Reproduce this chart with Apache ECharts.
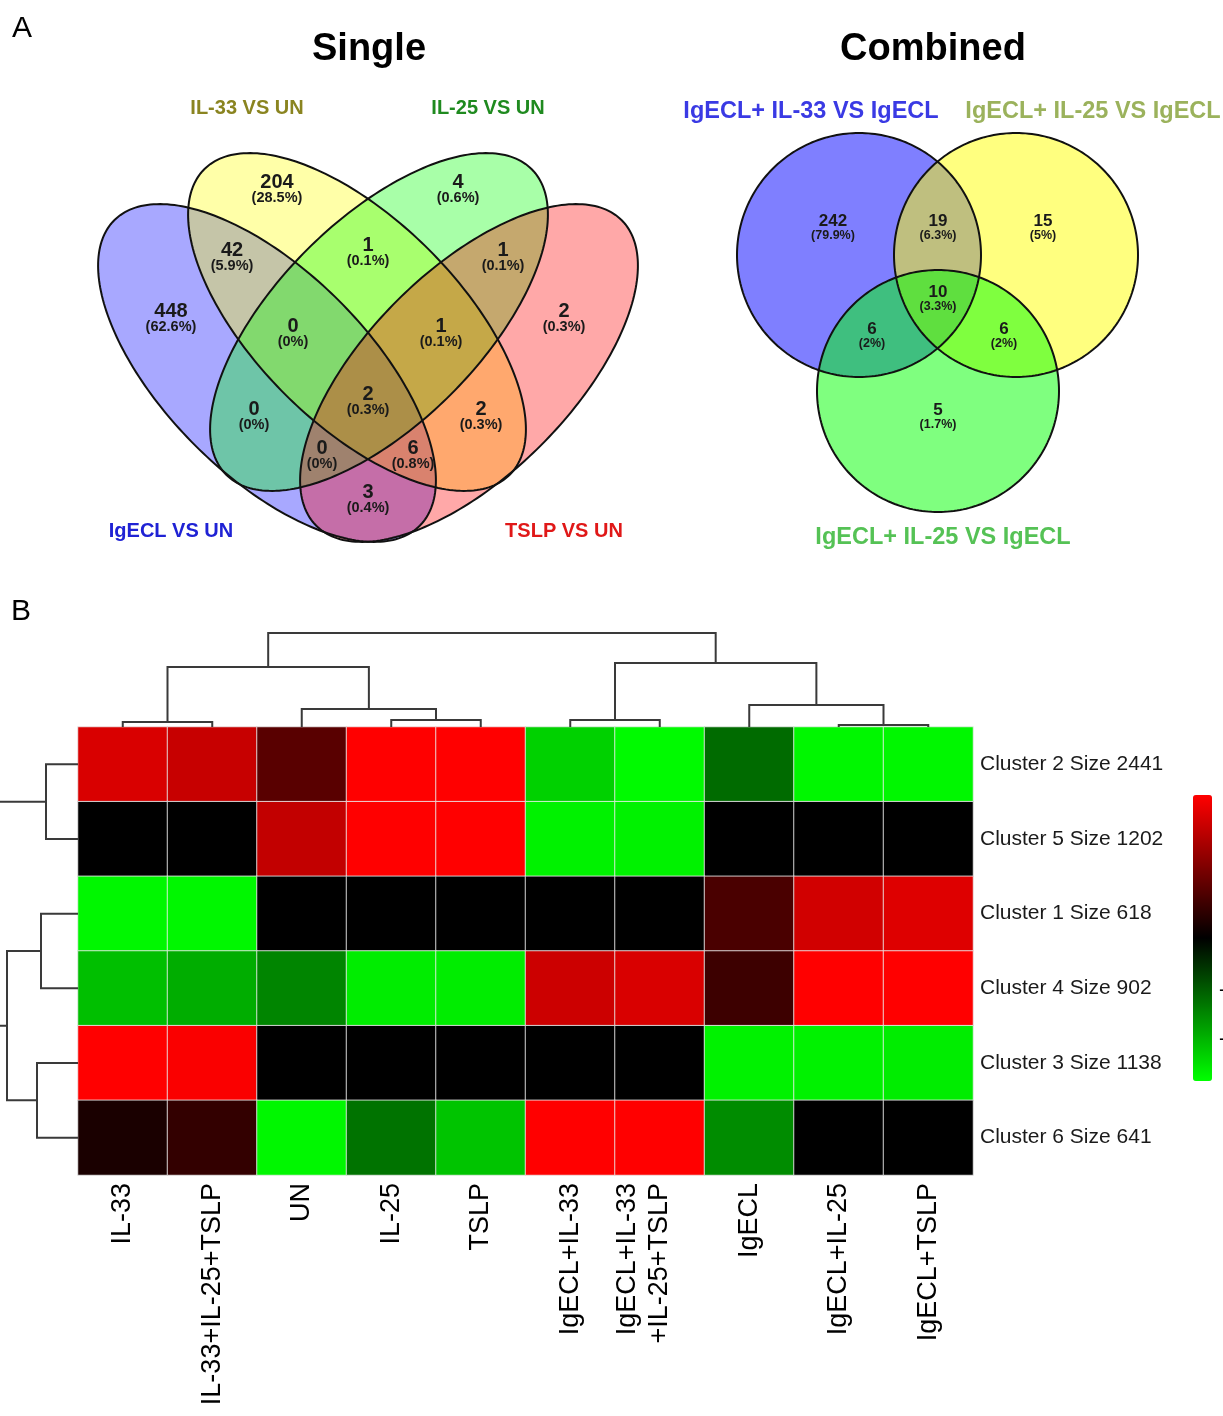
<!DOCTYPE html>
<html><head><meta charset="utf-8">
<script src="https://cdn.jsdelivr.net/npm/echarts@6/dist/echarts.min.js"></script>
<style>html,body{margin:0;padding:0;background:#fff}#c{width:1223px;height:1416px}</style>
</head><body><div id="c"></div>
<script>
const FONT = '"Liberation Sans", Arial, Helvetica, sans-serif';

// ---------- Panel A data ----------
const singleSets = ['IgECL VS UN', 'IL-33 VS UN', 'IL-25 VS UN', 'TSLP VS UN'];
const singleRegions = ['A', 'B', 'C', 'D', 'AB', 'BC', 'CD', 'ABC', 'BCD', 'ABCD', 'AC', 'BD', 'ACD', 'ABD', 'AD'];
const singleCounts = [448, 204, 4, 2, 42, 1, 1, 0, 1, 2, 0, 2, 0, 6, 3];
const singlePercents = ['62.6%', '28.5%', '0.6%', '0.3%', '5.9%', '0.1%', '0.1%', '0%', '0.1%', '0.3%', '0%', '0.3%', '0%', '0.8%', '0.4%'];

const combinedSets = ['IgECL+ IL-33 VS IgECL', 'IgECL+ IL-25 VS IgECL', 'IgECL+ IL-25 VS IgECL'];
const combinedRegions = ['A', 'AB', 'B', 'ABC', 'AC', 'BC', 'C'];
const combinedCounts = [242, 19, 15, 10, 6, 6, 5];
const combinedPercents = ['79.9%', '6.3%', '5%', '3.3%', '2%', '2%', '1.7%'];

// ---------- Panel B data ----------
const columns = ['IL-33', 'IL-33+IL-25+TSLP', 'UN', 'IL-25', 'TSLP', 'IgECL+IL-33', 'IgECL+IL-33\n+IL-25+TSLP', 'IgECL', 'IgECL+IL-25', 'IgECL+TSLP'];
const clusters = ['Cluster 2 Size 2441', 'Cluster 5 Size 1202', 'Cluster 1 Size 618', 'Cluster 4 Size 902', 'Cluster 3 Size 1138', 'Cluster 6 Size 641'];
const cluster2 = [0.85, 0.78, 0.35, 1.0, 1.0, -0.82, -0.98, -0.42, -0.97, -0.97];
const cluster5 = [0.0, 0.0, 0.76, 1.0, 1.0, -0.95, -0.95, 0.0, 0.0, 0.0];
const cluster1 = [-0.97, -0.97, 0.0, 0.0, 0.0, 0.0, 0.0, 0.29, 0.82, 0.87];
const cluster4 = [-0.75, -0.68, -0.52, -0.93, -0.93, 0.8, 0.85, 0.24, 1.0, 1.0];
const cluster3 = [1.0, 0.98, 0.0, 0.0, 0.0, 0.0, 0.0, -0.95, -0.95, -0.93];
const cluster6 = [0.1, 0.2, -0.97, -0.45, -0.77, 1.0, 1.0, -0.55, 0.0, 0.0];
const heatRows = [cluster2, cluster5, cluster1, cluster4, cluster3, cluster6];

// dendrogram merges: [childA, childB, height]; leaves first, then new nodes numbered after them
const colLinkage = [[0, 1, 5], [3, 4, 7], [2, 11, 18], [10, 12, 60], [5, 6, 7], [8, 9, 2], [7, 15, 22], [14, 16, 64], [13, 17, 94]];
const rowLinkage = [[0, 1, 32], [2, 3, 37], [4, 5, 41], [7, 8, 71], [6, 9, 82]];

// ---------- layout (diagram geometry, in canvas-like units of the Venn grid) ----------
const singleEllipses = [[267, 373, 216, 102, 45], [357, 322, 216, 102, 45], [379, 322, 216, 102, -45], [469, 373, 216, 102, -45]];
const singleFills = ['rgba(0,0,255,0.34)', 'rgba(255,255,0,0.34)', 'rgba(0,255,0,0.34)', 'rgba(255,0,0,0.34)'];
const singleLabelPos = [[171, 311], [277, 182], [458, 182], [564, 311], [232, 250], [368, 245], [503, 250], [293, 326], [441, 326], [368, 394], [254, 409], [481, 409], [322, 448], [413, 448], [368, 492]];
const singleSetLabelPos = [[171, 531], [247, 108], [488, 108], [564, 531]];
const singleSetColors = ['#1f22d4', '#8a8420', '#1f8a1f', '#e01818'];

const combinedCircles = [[859, 255, 122, 122, 0], [1016, 255, 122, 122, 0], [938, 391, 121, 121, 0]];
const combinedFills = ['rgba(0,0,255,0.5)', 'rgba(255,255,0,0.5)', 'rgba(0,255,0,0.5)'];
const combinedLabelPos = [[833, 221], [938, 221], [1043, 221], [938, 292], [872, 329], [1004, 329], [938, 410]];
const combinedSetLabelPos = [[811, 112], [1093, 112], [943, 538]];
const combinedSetColors = ['#3a3ae4', '#9bb25c', '#55c255'];

function dendroSegments(linkage, nLeaves) {
  const pos = [], ht = [];
  for (let i = 0; i < nLeaves; i++) { pos[i] = i + 0.5; ht[i] = 0; }
  return linkage.map((m, k) => {
    const id = nLeaves + k;
    pos[id] = (pos[m[0]] + pos[m[1]]) / 2; ht[id] = m[2];
    return [pos[m[0]], ht[m[0]], pos[m[1]], ht[m[1]], m[2]];
  });
}

const heatData = [];
heatRows.forEach((row, r) => row.forEach((v, c) => heatData.push([c, r, v])));

function ellipseRender(fills) {
  return function (params, api) {
    const cx = api.value(0), cy = api.value(1), a = api.value(2), b = api.value(3);
    const ang = api.value(4) * Math.PI / 180, i = api.value(5), mode = api.value(6);
    const pts = [];
    for (let k = 0; k < 240; k++) {
      const t = k / 240 * 2 * Math.PI;
      const x = cx + a * Math.cos(t) * Math.cos(ang) - b * Math.sin(t) * Math.sin(ang);
      const y = cy + a * Math.cos(t) * Math.sin(ang) + b * Math.sin(t) * Math.cos(ang);
      pts.push(api.coord([x, y]));
    }
    return {
      type: 'polygon', shape: { points: pts },
      style: mode === 0 ? { fill: fills[i], stroke: null } : { fill: null, stroke: '#111', lineWidth: 2 }
    };
  };
}
function ellipseData(list) {
  const d = [];
  list.forEach((e, i) => d.push([...e, i, 0]));
  list.forEach((e, i) => d.push([...e, i, 1]));
  return d;
}
function labelRender(counts, pcts, big, small, gap) {
  return function (params, api) {
    const i = api.value(2);
    const p1 = api.coord([api.value(0), api.value(1)]);
    return {
      type: 'group', children: [
        { type: 'text', x: p1[0], y: p1[1], style: { text: String(counts[i]), fontFamily: FONT, fontWeight: 'bold', fontSize: big, fill: '#1a1a1a', align: 'center', verticalAlign: 'middle' } },
        { type: 'text', x: p1[0], y: p1[1] + gap, style: { text: '(' + pcts[i] + ')', fontFamily: FONT, fontWeight: 'bold', fontSize: small, fill: '#1a1a1a', align: 'center', verticalAlign: 'middle' } }
      ]
    };
  };
}
function setLabelRender(names, colors, size) {
  return function (params, api) {
    const i = api.value(2);
    const p = api.coord([api.value(0), api.value(1)]);
    return { type: 'text', x: p[0], y: p[1], style: { text: names[i], fontFamily: FONT, fontWeight: 'bold', fontSize: size, fill: colors[i], align: 'center', verticalAlign: 'middle' } };
  };
}

const hidden = { show: false };
const chart = echarts.init(document.getElementById('c'), null, { renderer: 'canvas' });
chart.setOption({
  animation: false,
  backgroundColor: '#fff',
  grid: [
    { left: 78, top: 727, width: 895, height: 448, outerBoundsMode: 'none' },
    { left: 78, top: 627, width: 895, height: 100, outerBoundsMode: 'none' },
    { left: 0, top: 727, width: 78, height: 448, outerBoundsMode: 'none' },
    { left: 0, top: 0, width: 1223, height: 560, outerBoundsMode: 'none' }
  ],
  xAxis: [
    { gridIndex: 0, type: 'category', data: columns, position: 'bottom',
      axisLine: hidden, axisTick: hidden, splitLine: hidden,
      axisLabel: { interval: 0, rotate: 90, margin: 8, fontSize: 27, lineHeight: 32, color: '#000', fontFamily: FONT,
        formatter: v => (v.indexOf('\n') >= 0 ? v + '\n ' : v) } },
    { gridIndex: 1, type: 'value', min: 0, max: 10, show: false },
    { gridIndex: 2, type: 'value', min: 0, max: 78, inverse: true, show: false },
    { gridIndex: 3, type: 'value', min: 0, max: 1223, show: false }
  ],
  yAxis: [
    { gridIndex: 0, type: 'category', data: clusters, inverse: true, position: 'right',
      axisLine: hidden, axisTick: hidden, splitLine: hidden,
      axisLabel: { margin: 7, fontSize: 21, color: '#1a1a1a', fontFamily: FONT } },
    { gridIndex: 1, type: 'value', min: 0, max: 100, show: false },
    { gridIndex: 2, type: 'value', min: 0, max: 6, inverse: true, show: false },
    { gridIndex: 3, type: 'value', min: 0, max: 560, inverse: true, show: false }
  ],
  visualMap: {
    type: 'continuous', seriesIndex: 0, min: -1, max: 1, calculable: false,
    orient: 'vertical', left: 1193, top: 795, itemWidth: 19, itemHeight: 286, padding: 0,
    inRange: { color: ['#00ff00', '#000000', '#ff0000'] }
  },
  graphic: [
    { type: 'text', x: 22, y: 29, style: { text: 'A', fontFamily: FONT, fontSize: 30, fill: '#000', align: 'center', verticalAlign: 'middle' } },
    { type: 'text', x: 21, y: 612, style: { text: 'B', fontFamily: FONT, fontSize: 30, fill: '#000', align: 'center', verticalAlign: 'middle' } },
    { type: 'text', x: 369, y: 50, style: { text: 'Single', fontFamily: FONT, fontWeight: 'bold', fontSize: 38, fill: '#000', align: 'center', verticalAlign: 'middle' } },
    { type: 'text', x: 933, y: 50, style: { text: 'Combined', fontFamily: FONT, fontWeight: 'bold', fontSize: 38, fill: '#000', align: 'center', verticalAlign: 'middle' } },
    { type: 'text', x: 1219, y: 990, style: { text: '-1', fontFamily: FONT, fontSize: 20, fill: '#000', align: 'left', verticalAlign: 'middle' } },
    { type: 'text', x: 1219, y: 1039, style: { text: '-2', fontFamily: FONT, fontSize: 20, fill: '#000', align: 'left', verticalAlign: 'middle' } }
  ],
  series: [
    { type: 'heatmap', xAxisIndex: 0, yAxisIndex: 0, data: heatData,
      itemStyle: { borderColor: 'rgba(235,235,235,0.85)', borderWidth: 1 },
      emphasis: { disabled: true }, label: { show: false } },
    { type: 'custom', xAxisIndex: 1, yAxisIndex: 1, data: dendroSegments(colLinkage, columns.length), silent: true,
      renderItem: function (params, api) {
        const pts = [api.coord([api.value(0), api.value(1)]), api.coord([api.value(0), api.value(4)]),
                     api.coord([api.value(2), api.value(4)]), api.coord([api.value(2), api.value(3)])];
        return { type: 'polyline', shape: { points: pts }, style: { stroke: '#3a3a3a', lineWidth: 2, fill: null } };
      } },
    { type: 'custom', xAxisIndex: 2, yAxisIndex: 2, data: dendroSegments(rowLinkage, clusters.length), silent: true, clip: false,
      renderItem: function (params, api) {
        const pts = [api.coord([api.value(1), api.value(0)]), api.coord([api.value(4), api.value(0)]),
                     api.coord([api.value(4), api.value(2)]), api.coord([api.value(3), api.value(2)])];
        return { type: 'polyline', shape: { points: pts }, style: { stroke: '#3a3a3a', lineWidth: 2, fill: null } };
      } },
    { type: 'custom', xAxisIndex: 3, yAxisIndex: 3, data: ellipseData(singleEllipses), silent: true,
      renderItem: ellipseRender(singleFills) },
    { type: 'custom', xAxisIndex: 3, yAxisIndex: 3, data: ellipseData(combinedCircles), silent: true,
      renderItem: ellipseRender(combinedFills) },
    { type: 'custom', xAxisIndex: 3, yAxisIndex: 3, silent: true,
      data: singleLabelPos.map((p, i) => [p[0], p[1], i]),
      renderItem: labelRender(singleCounts, singlePercents, 20, 14.5, 16) },
    { type: 'custom', xAxisIndex: 3, yAxisIndex: 3, silent: true,
      data: combinedLabelPos.map((p, i) => [p[0], p[1], i]),
      renderItem: labelRender(combinedCounts, combinedPercents, 17, 12.5, 15) },
    { type: 'custom', xAxisIndex: 3, yAxisIndex: 3, silent: true,
      data: singleSetLabelPos.map((p, i) => [p[0], p[1], i]),
      renderItem: setLabelRender(singleSets, singleSetColors, 20) },
    { type: 'custom', xAxisIndex: 3, yAxisIndex: 3, silent: true,
      data: combinedSetLabelPos.map((p, i) => [p[0], p[1], i]),
      renderItem: setLabelRender(combinedSets, combinedSetColors, 23.5) }
  ]
});
</script>
</body></html>
